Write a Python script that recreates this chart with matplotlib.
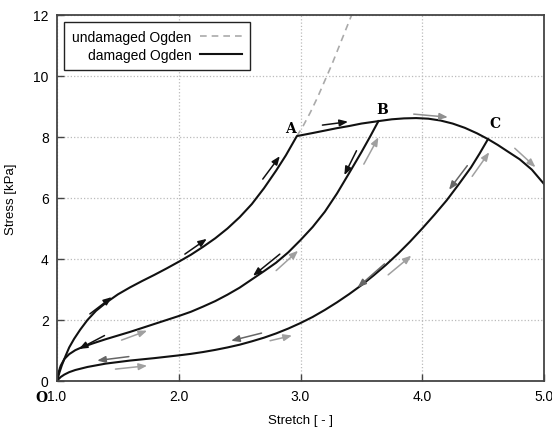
import matplotlib.pyplot as plt

plt.rcParams['font.family'] = ['Liberation Sans', 'DejaVu Sans']

# damaged Ogden: loading path O -> A -> B -> C -> end
env_x = [1.0, 1.02, 1.04, 1.07, 1.1, 1.14, 1.19, 1.25, 1.32, 1.4, 1.5, 1.6, 1.7,
         1.8, 1.9, 2.0, 2.1, 2.2, 2.3, 2.4, 2.5, 2.6, 2.7, 2.8, 2.88, 2.93, 2.97,
         3.1, 3.2, 3.3, 3.4, 3.5, 3.64, 3.75, 3.85, 3.95, 4.05, 4.15, 4.25, 4.35,
         4.45, 4.54, 4.62, 4.7, 4.8, 4.9, 5.0]
env_y = [0.0, 0.28, 0.52, 0.82, 1.1, 1.38, 1.68, 2.0, 2.3, 2.56, 2.84, 3.07, 3.28,
         3.48, 3.69, 3.91, 4.14, 4.4, 4.68, 5.0, 5.37, 5.8, 6.32, 6.9, 7.4, 7.75, 8.03,
         8.13, 8.21, 8.29, 8.36, 8.44, 8.52, 8.58, 8.61, 8.62, 8.6, 8.54, 8.44, 8.3,
         8.12, 7.93, 7.74, 7.53, 7.27, 6.93, 6.46]

# unloading from B
unB_x = [1.0, 1.01, 1.03, 1.06, 1.1, 1.15, 1.2, 1.3, 1.4, 1.5, 1.6, 1.7, 1.8, 1.9,
         2.0, 2.1, 2.2, 2.3, 2.4, 2.5, 2.6, 2.7, 2.8, 2.9, 3.0, 3.1, 3.2, 3.3, 3.4,
         3.5, 3.57, 3.64]
unB_y = [0.0, 0.25, 0.5, 0.72, 0.88, 1.01, 1.1, 1.24, 1.37, 1.49, 1.61, 1.74, 1.87,
         2.0, 2.13, 2.27, 2.44, 2.62, 2.83, 3.06, 3.33, 3.6, 3.88, 4.22, 4.62, 5.05,
         5.55, 6.15, 6.82, 7.5, 8.0, 8.52]

# unloading from C
unC_x = [1.0, 1.01, 1.03, 1.06, 1.1, 1.15, 1.25, 1.4, 1.6, 1.8, 2.0, 2.1, 2.2, 2.3,
         2.4, 2.5, 2.6, 2.7, 2.8, 2.9, 3.0, 3.1, 3.2, 3.3, 3.4, 3.5, 3.6, 3.7, 3.8,
         3.9, 4.0, 4.1, 4.2, 4.3, 4.4, 4.47, 4.54]
unC_y = [0.0, 0.05, 0.13, 0.21, 0.29, 0.36, 0.46, 0.57, 0.67, 0.75, 0.84, 0.89,
         0.95, 1.02, 1.1, 1.19, 1.3, 1.42, 1.56, 1.72, 1.9, 2.1, 2.33, 2.58, 2.85,
         3.14, 3.46, 3.8, 4.17, 4.57, 5.0, 5.45, 5.92, 6.45, 7.0, 7.45, 7.93]

# undamaged Ogden continuation above A
und_x = [2.97, 3.02, 3.08, 3.14, 3.2, 3.26, 3.32, 3.38, 3.42]
und_y = [8.03, 8.35, 8.8, 9.3, 9.85, 10.4, 11.0, 11.6, 12.0]

# direction arrows: (x0, y0, x1, y1, colour)
arrows = [
    (1.27, 2.20, 1.45, 2.75, '#111111'),
    (2.05, 4.16, 2.23, 4.66, '#111111'),
    (2.69, 6.62, 2.83, 7.37, '#111111'),
    (3.18, 8.39, 3.39, 8.50, '#111111'),
    (3.46, 7.55, 3.36, 6.75, '#111111'),
    (2.83, 4.16, 2.61, 3.45, '#111111'),
    (1.39, 1.49, 1.18, 1.05, '#111111'),
    (1.59, 0.80, 1.33, 0.67, '#666666'),
    (1.48, 0.39, 1.74, 0.50, '#a0a0a0'),
    (1.53, 1.34, 1.74, 1.65, '#a0a0a0'),
    (2.68, 1.57, 2.43, 1.32, '#666666'),
    (2.75, 1.32, 2.93, 1.49, '#a0a0a0'),
    (2.80, 3.62, 2.98, 4.27, '#a0a0a0'),
    (3.69, 3.84, 3.47, 3.07, '#666666'),
    (3.72, 3.48, 3.91, 4.11, '#a0a0a0'),
    (3.52, 7.11, 3.64, 7.99, '#a0a0a0'),
    (3.93, 8.75, 4.21, 8.65, '#909090'),
    (4.76, 7.63, 4.93, 7.01, '#a0a0a0'),
    (4.37, 7.06, 4.22, 6.27, '#666666'),
    (4.41, 6.71, 4.55, 7.50, '#a0a0a0'),
]

point_labels = [('A', 2.92, 8.28), ('B', 3.67, 8.92), ('C', 4.6, 8.45)]

fig = plt.figure(figsize=(5.52, 4.31), dpi=100)
ax = fig.add_axes([0.1033, 0.1137, 0.8822, 0.8492])

ax.plot(und_x, und_y, color='#aaaaaa', lw=1.2, ls=(0, (4, 3)), label='undamaged Ogden')
ax.plot(env_x, env_y, color='#111111', lw=1.5, label='damaged Ogden')
ax.plot(unB_x, unB_y, color='#111111', lw=1.5)
ax.plot(unC_x, unC_y, color='#111111', lw=1.5)

for x0, y0, x1, y1, c in arrows:
    ax.annotate('', xy=(x1, y1), xytext=(x0, y0),
                arrowprops=dict(arrowstyle='-|>,head_length=0.5,head_width=0.2',
                                color=c, lw=1.1, shrinkA=0, shrinkB=0))

for s, x, y in point_labels:
    ax.text(x, y, s, family='serif', fontweight='bold', fontsize=10,
            ha='center', va='center')
ax.text(0.87, -0.3, 'O', family='serif', fontweight='bold', fontsize=10,
        ha='center', va='top', clip_on=False)

ax.set_xlim(1.0, 5.0)
ax.set_ylim(0, 12)
ax.set_xticks([1.0, 2.0, 3.0, 4.0, 5.0])
ax.set_xticklabels(['1.0', '2.0', '3.0', '4.0', '5.0'])
ax.set_yticks([0, 2, 4, 6, 8, 10, 12])
ax.tick_params(direction='in', length=5, width=1, color='#444444',
               labelsize=10, pad=6)
ax.grid(True, ls=':', color='#bbbbbb', lw=0.9)
for sp in ax.spines.values():
    sp.set_color('#444444')
    sp.set_linewidth(1.3)

ax.set_xlabel('Stretch [ - ]', fontsize=9.5, labelpad=8)
ax.set_ylabel('Stress [kPa]', fontsize=9.5, labelpad=12)

leg = ax.legend(loc='upper left', markerfirst=False, fancybox=False,
                framealpha=1, edgecolor='#222222', fontsize=10,
                handlelength=3.0, borderaxespad=0.5, labelspacing=0.25,
                handletextpad=0.6, borderpad=0.6)
leg.get_frame().set_linewidth(1.0)
for t in leg.get_texts():
    t.set_ha('right')

fig.savefig('out.png', dpi=100)
